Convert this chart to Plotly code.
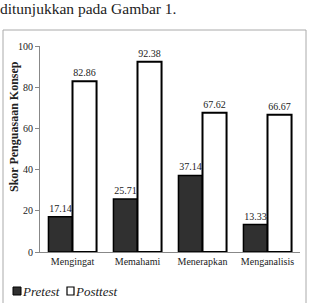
import plotly.graph_objects as go

categories = ["Mengingat", "Memahami", "Menerapkan", "Menganalisis"]
pretest = [17.14, 25.71, 37.14, 13.33]
posttest = [82.86, 92.38, 67.62, 66.67]
y_ticks = [0, 20, 40, 60, 80, 100]

SERIF = "Times New Roman, Liberation Serif, DejaVu Serif, serif"

def px_x(px):
    return (px - 40) / 260

def px_y(py):
    return (303 - py - 51) / 206

fig = go.Figure()
fig.add_trace(go.Bar(
    x=categories, y=pretest, name="Pretest",
    marker=dict(color="#303030", line=dict(color="#000000", width=1.5)),
    text=[f"{v:.2f}" for v in pretest], textposition="outside",
    textfont=dict(family=SERIF, size=10, color="#222"), cliponaxis=False,
))
fig.add_trace(go.Bar(
    x=categories, y=posttest, name="Posttest",
    marker=dict(color="#ffffff", line=dict(color="#000000", width=2)),
    text=[f"{v:.2f}" for v in posttest], textposition="outside",
    textfont=dict(family=SERIF, size=10, color="#222"), cliponaxis=False,
))

fig.update_layout(
    width=310, height=303,
    margin=dict(l=40, r=10, t=46, b=51),
    paper_bgcolor="white", plot_bgcolor="white",
    barmode="group", bargap=0.26, bargroupgap=0,
    showlegend=False,
    font=dict(family=SERIF, size=10, color="#222"),
    xaxis=dict(showline=True, linecolor="#888", linewidth=1, ticks="",
               tickfont=dict(family=SERIF, size=10, color="#222"),
               showgrid=False, zeroline=False),
    yaxis=dict(range=[0, 100], tickvals=y_ticks, showline=True, linecolor="#888",
               linewidth=1, ticks="outside", ticklen=4, tickcolor="#888",
               tickfont=dict(family=SERIF, size=10, color="#222"),
               showgrid=False, zeroline=False),
)

# outer box border of the figure frame
fig.add_shape(type="rect", xref="paper", yref="paper",
              x0=px_x(3), x1=px_x(306), y0=px_y(310), y1=px_y(30),
              line=dict(color="#aaa", width=1), fillcolor="rgba(0,0,0,0)")

# y-axis title
fig.add_annotation(text="<b>Skor Penguasaan Konsep</b>", xref="paper", yref="paper",
                   x=px_x(14), y=px_y(127), textangle=-90,
                   xanchor="center", yanchor="middle", showarrow=False,
                   font=dict(family=SERIF, size=12, color="#222"))

# header sentence
fig.add_annotation(text="ditunjukkan pada Gambar 1.", xref="paper", yref="paper",
                   x=px_x(-2), y=px_y(8), xanchor="left",
                   yanchor="middle", showarrow=False,
                   font=dict(family="Liberation Serif, serif", size=15.5, color="#222"))

# legend swatches
fig.add_shape(type="rect", xref="paper", yref="paper",
              x0=px_x(13), x1=px_x(21), y0=px_y(295), y1=px_y(287),
              line=dict(color="#000", width=1), fillcolor="#303030")
fig.add_shape(type="rect", xref="paper", yref="paper",
              x0=px_x(67), x1=px_x(74), y0=px_y(295), y1=px_y(287),
              line=dict(color="#000", width=1.2), fillcolor="#ffffff")
fig.add_annotation(text="<i>Pretest</i>", xref="paper", yref="paper",
                   x=px_x(20), y=px_y(291), xanchor="left", yanchor="middle",
                   showarrow=False, font=dict(family=SERIF, size=13, color="#222"))
fig.add_annotation(text="<i>Posttest</i>", xref="paper", yref="paper",
                   x=px_x(73), y=px_y(291), xanchor="left", yanchor="middle",
                   showarrow=False, font=dict(family=SERIF, size=13, color="#222"))

fig.write_html("out.html")
